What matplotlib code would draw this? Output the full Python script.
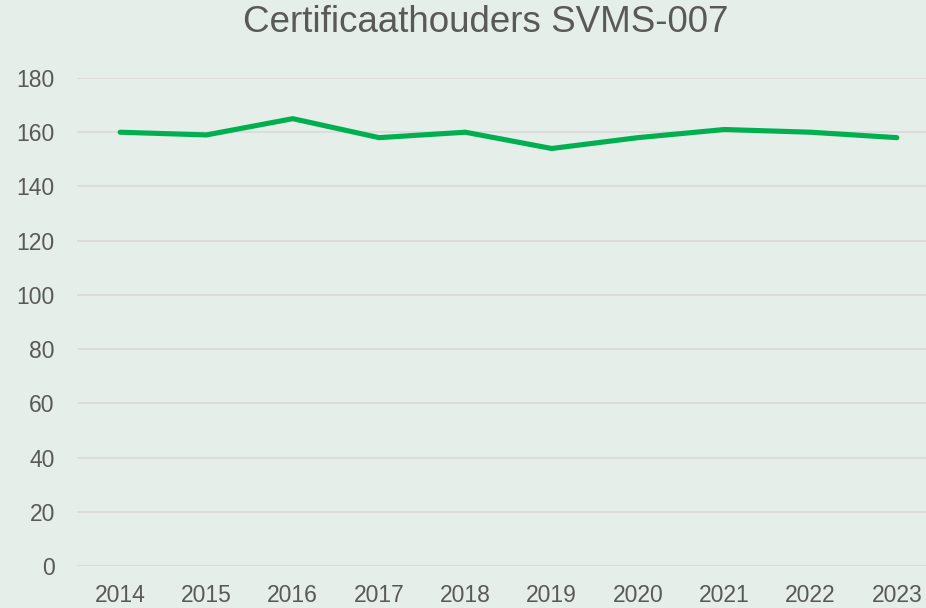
import matplotlib.pyplot as plt

years = ['2014', '2015', '2016', '2017', '2018', '2019', '2020', '2021', '2022', '2023']
holders = [160, 159, 165, 158, 160, 154, 158, 161, 160, 158]
y_ticks = [0, 20, 40, 60, 80, 100, 120, 140, 160, 180]

plt.rcParams['font.family'] = ['Liberation Sans', 'DejaVu Sans']
bg = '#E5EEE9'
txt = '#595959'

fig = plt.figure(figsize=(9.26, 6.08), dpi=100, facecolor=bg)
ax = fig.add_axes([77 / 926, 42 / 608, 863 / 926, 488 / 608], facecolor=bg)

x = range(len(years))
ax.plot(x, holders, color='#00B050', linewidth=3.7, solid_capstyle='round',
        solid_joinstyle='round', zorder=3)

ax.set_xlim(-0.5, len(years) - 0.5)
ax.set_ylim(0, 180)
ax.set_xticks(list(x))
ax.set_xticklabels(years)
ax.set_yticks(y_ticks)
ax.grid(axis='y', color='#D9D9D9', linewidth=1.2)
ax.set_axisbelow(True)
for s in ax.spines.values():
    s.set_visible(False)
ax.tick_params(axis='both', length=0, labelsize=16.5, colors=txt)
ax.tick_params(axis='y', pad=16)
ax.tick_params(axis='x', pad=13)

fig.text(486 / 926, 1 - 23 / 608, 'Certificaathouders SVMS-007', ha='center', va='center',
         fontsize=26.5, color=txt)

fig.savefig('out.png', dpi=100, facecolor=bg)
